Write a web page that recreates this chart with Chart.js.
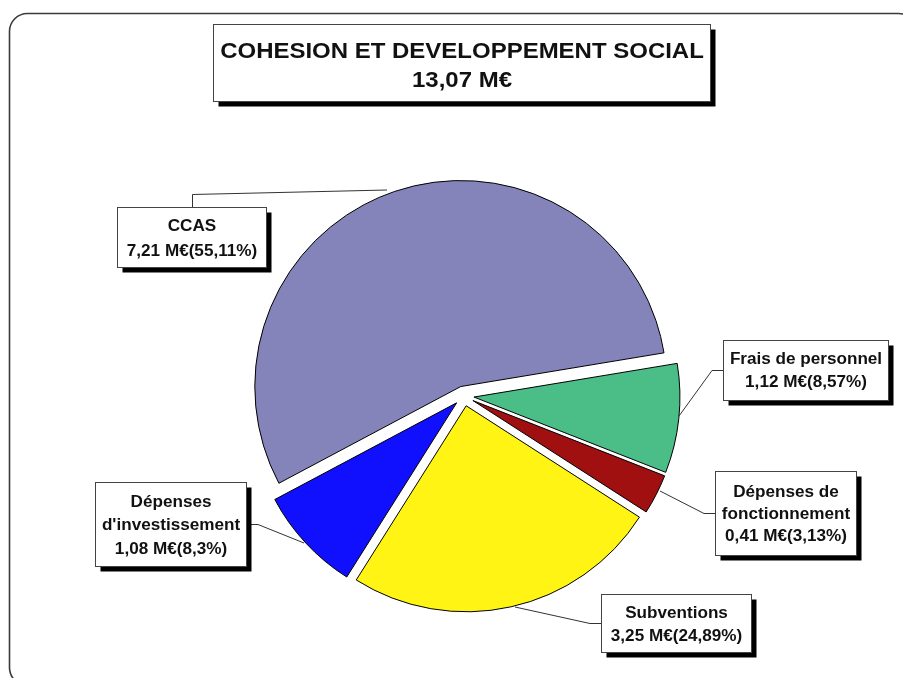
<!DOCTYPE html>
<html lang="fr">
<head>
<meta charset="utf-8">
<title>Cohésion et développement social</title>
<script src="https://cdn.jsdelivr.net/npm/chart.js@4.4.1/dist/chart.umd.min.js"></script>
<style>
  html, body { margin: 0; padding: 0; background: #ffffff; }
  #wrap { width: 903px; height: 678px; position: relative; }
</style>
</head>
<body>
<div id="wrap"><canvas id="chart" width="903" height="678"></canvas></div>
<script>
// Budget lines (M€) and their share of the total
const titleLines = ['COHESION ET DEVELOPPEMENT SOCIAL', '13,07 M€'];
const categories = [
  ['CCAS'],
  ['Frais de personnel'],
  ['Dépenses de', 'fonctionnement'],
  ['Subventions'],
  ['Dépenses', "d'investissement"]
];
const amounts = [7.21, 1.12, 0.41, 3.25, 1.08];
const shares = [55.11, 8.57, 3.13, 24.89, 8.3];
const sliceColors = ['#8484BB', '#4BBD87', '#A01010', '#FFF414', '#1010FF'];

const FONT = "'Liberation Sans', Arial, Helvetica, sans-serif";
const EXPLODE = 10;       // distance each slice is pulled out, px

// Label boxes: [left, top, right, bottom], text baselines, leader line points
const labelLayout = [
  { box: [117.5, 207.5, 266.5, 267.5], base: [230.5, 255.5],      lead: [[192.5, 207.5], [192.5, 194.5], [387, 190]] },
  { box: [723.5, 340.5, 888.5, 400.5], base: [364, 386.5],        lead: [[723.5, 370.5], [712, 370.5], [679, 416]] },
  { box: [715.5, 471.5, 856.5, 555.5], base: [496.5, 518.5, 541], lead: [[715.5, 513.5], [704, 513.5], [660, 491]] },
  { box: [601.5, 594.5, 751.5, 652.5], base: [617.5, 640.5],      lead: [[601.5, 623.5], [590, 623.5], [515, 607]] },
  { box: [95.5, 482.5, 246.5, 566.5],  base: [506.5, 530, 553.5], lead: [[246.5, 524.5], [258, 524.5], [304, 543]] }
];

function fr(n) { return String(n).replace('.', ','); }

function shadowBox(ctx, l, t, r, b) {
  ctx.fillStyle = '#000000';
  ctx.fillRect(l + 5, t + 5, r - l, b - t);
  ctx.fillStyle = '#ffffff';
  ctx.fillRect(l, t, r - l, b - t);
  ctx.strokeStyle = '#444444';
  ctx.lineWidth = 1;
  ctx.strokeRect(l, t, r - l, b - t);
}

function wideText(ctx, text, cx, baseline, stretch) {
  ctx.save();
  ctx.translate(cx, baseline);
  ctx.scale(stretch, 1);
  ctx.fillText(text, 0, 0);
  ctx.restore();
}

// Pull every slice outward along its mid-angle, using the arc's own draw routine
const explodedSlices = {
  id: 'explodedSlices',
  beforeDatasetDraw(chart, args) {
    const ctx = chart.ctx;
    const meta = args.meta;
    meta.data.forEach(arc => {
      const mid = (arc.startAngle + arc.endAngle) / 2;
      ctx.save();
      ctx.translate(Math.cos(mid) * EXPLODE, Math.sin(mid) * EXPLODE);
      arc.draw(ctx);
      ctx.restore();
    });
    return false;
  }
};

// Frame, title box and callout labels
const decorations = {
  id: 'decorations',
  beforeDraw(chart) {
    const ctx = chart.ctx;
    ctx.save();
    ctx.fillStyle = '#ffffff';
    ctx.fillRect(0, 0, chart.width, chart.height);
    // rounded frame
    const x = 9.5, y = 13.5, w = 907, h = 672, r = 18;
    ctx.beginPath();
    ctx.moveTo(x + r, y);
    ctx.lineTo(x + w - r, y);
    ctx.arcTo(x + w, y, x + w, y + r, r);
    ctx.lineTo(x + w, y + h - r);
    ctx.arcTo(x + w, y + h, x + w - r, y + h, r);
    ctx.lineTo(x + r, y + h);
    ctx.arcTo(x, y + h, x, y + h - r, r);
    ctx.lineTo(x, y + r);
    ctx.arcTo(x, y, x + r, y, r);
    ctx.closePath();
    ctx.strokeStyle = '#3a3a3a';
    ctx.lineWidth = 1.6;
    ctx.stroke();
    ctx.restore();
  },
  afterDraw(chart) {
    const ctx = chart.ctx;
    ctx.save();
    // title
    shadowBox(ctx, 213.5, 24.5, 710.5, 101.5);
    ctx.fillStyle = '#111111';
    ctx.textAlign = 'center';
    ctx.textBaseline = 'alphabetic';
    ctx.font = 'bold 22px ' + FONT;
    wideText(ctx, titleLines[0], 462, 57.5, 1.09);
    wideText(ctx, titleLines[1], 462, 86.5, 1.09);

    // callouts
    const labels = chart.data.labels;
    labelLayout.forEach((lay, i) => {
      ctx.strokeStyle = '#333333';
      ctx.lineWidth = 1;
      ctx.beginPath();
      lay.lead.forEach((p, k) => (k ? ctx.lineTo(p[0], p[1]) : ctx.moveTo(p[0], p[1])));
      ctx.stroke();

      const [l, t, r, b] = lay.box;
      shadowBox(ctx, l, t, r, b);
      const lines = labels[i].concat([fr(amounts[i]) + ' M€(' + fr(shares[i]) + '%)']);
      ctx.fillStyle = '#111111';
      ctx.font = 'bold 16px ' + FONT;
      lines.forEach((txt, k) => wideText(ctx, txt, (l + r) / 2, lay.base[k], 1.07));
    });
    ctx.restore();
  }
};

new Chart(document.getElementById('chart'), {
  type: 'pie',
  data: {
    labels: categories,
    datasets: [{
      data: amounts,
      backgroundColor: sliceColors,
      borderColor: '#000000',
      borderWidth: 1
    }]
  },
  options: {
    responsive: false,
    animation: false,
    rotation: 242,
    layout: { padding: { left: 257.5, right: 232.5, top: 189.5, bottom: 75.5 } },
    plugins: {
      legend: { display: false },
      tooltip: { enabled: false },
      title: { display: false }
    }
  },
  plugins: [explodedSlices, decorations]
});
</script>
</body>
</html>
